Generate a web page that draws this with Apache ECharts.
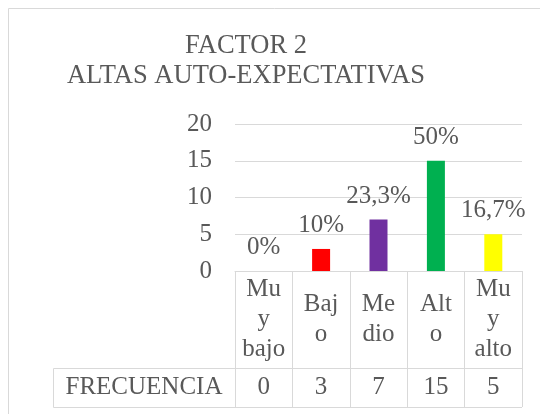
<!DOCTYPE html>
<html>
<head>
<meta charset="utf-8">
<script src="https://cdn.jsdelivr.net/npm/echarts@6/dist/echarts.min.js"></script>
<style>
  html, body { margin: 0; padding: 0; background: #fff; }
  #factor2 { width: 540px; height: 414px; }
</style>
</head>
<body>
<div id="factor2"></div>
<script>
// datos del grafico
var categorias = ['Muy bajo', 'Bajo', 'Medio', 'Alto', 'Muy alto'];
var etiquetasCategoria = ['Mu\ny\nbajo', 'Baj\no', 'Me\ndio', 'Alt\no', 'Mu\ny\nalto'];
var frecuencia = [0, 3, 7, 15, 5];
var porcentajes = ['0%', '10%', '23,3%', '50%', '16,7%'];
var coloresBarra = ['#ff0000', '#ff0000', '#7030a0', '#00b050', '#ffff00'];
var nombreSerie = 'FRECUENCIA';

var fuente = 'Liberation Serif';
var gris = '#595959';
var linea = '#d9d9d9';
var tam = 25;

// medidas de la zona de dibujo
var gLeft = 235, gRight = 18, gTop = 124, gBottom = 143;
var filaCat = 97;    // alto de la fila de categorias
var filaFrec = 39;   // alto de la fila de frecuencia
var celdaIzq = 53;   // borde izquierdo de la celda FRECUENCIA

var factorchart = echarts.init(document.getElementById('factor2'));

function setFactorChart() {
  var W = 540, H = 414;
  var y0 = H - gBottom;
  var ySep = y0 + filaCat;
  var yFin = ySep + filaFrec;
  var xFin = W - gRight;

  var option = {
    animation: false,
    title: {
      text: 'FACTOR 2\nALTAS AUTO-EXPECTATIVAS',
      left: 241,
      top: 26,
      textAlign: 'center',
      textStyle: {
        fontFamily: fuente,
        fontSize: 26.5,
        fontWeight: 'normal',
        color: gris,
        lineHeight: 30
      }
    },
    grid: { left: gLeft, right: gRight, top: gTop, bottom: gBottom },
    xAxis: [
      {
        type: 'category',
        data: categorias,
        axisLine: { show: true, lineStyle: { color: linea, width: 1 } },
        axisTick: { show: true, length: filaCat + filaFrec, lineStyle: { color: linea, width: 1 } },
        axisLabel: {
          interval: 0,
          margin: filaCat / 2,
          verticalAlign: 'middle',
          fontFamily: fuente,
          fontSize: tam,
          lineHeight: 30,
          color: gris,
          formatter: function (v, i) { return etiquetasCategoria[i]; }
        }
      },
      {
        type: 'category',
        data: categorias,
        position: 'bottom',
        offset: filaCat,
        axisLine: { show: true, lineStyle: { color: linea, width: 1 } },
        axisTick: { show: false },
        axisLabel: {
          interval: 0,
          margin: filaFrec / 2,
          verticalAlign: 'middle',
          fontFamily: fuente,
          fontSize: tam,
          color: gris,
          formatter: function (v, i) { return String(frecuencia[i]); }
        }
      }
    ],
    yAxis: {
      type: 'value',
      min: 0,
      max: 20,
      interval: 5,
      axisLine: { show: false },
      axisTick: { show: false },
      splitLine: { lineStyle: { color: linea, width: 1 } },
      axisLabel: { margin: 23, fontFamily: fuente, fontSize: tam, color: gris }
    },
    series: [
      {
        name: nombreSerie,
        type: 'bar',
        barWidth: 18,
        data: frecuencia.map(function (v, i) {
          return { value: v, itemStyle: { color: coloresBarra[i] } };
        }),
        label: {
          show: true,
          position: 'top',
          distance: 11,
          fontFamily: fuente,
          fontSize: tam,
          color: gris,
          formatter: function (p) { return porcentajes[p.dataIndex]; }
        }
      }
    ],
    graphic: [
      // marco del grafico
      {
        type: 'rect',
        shape: { x: 8.5, y: 8.5, width: 700, height: 700 },
        style: { fill: 'none', stroke: linea, lineWidth: 1 },
        silent: true
      },
      // celda FRECUENCIA y borde inferior de la tabla
      {
        type: 'polyline',
        shape: { points: [[gLeft, ySep + 0.5], [celdaIzq + 0.5, ySep + 0.5], [celdaIzq + 0.5, yFin + 0.5], [xFin, yFin + 0.5]] },
        style: { fill: 'none', stroke: linea, lineWidth: 1 },
        silent: true
      },
      {
        type: 'text',
        x: (celdaIzq + gLeft) / 2,
        y: ySep + filaFrec / 2,
        style: {
          text: nombreSerie,
          align: 'center',
          verticalAlign: 'middle',
          font: tam + 'px "' + fuente + '"',
          fill: gris
        },
        silent: true
      }
    ]
  };

  factorchart.setOption(option);
}

setFactorChart();
</script>
</body>
</html>
